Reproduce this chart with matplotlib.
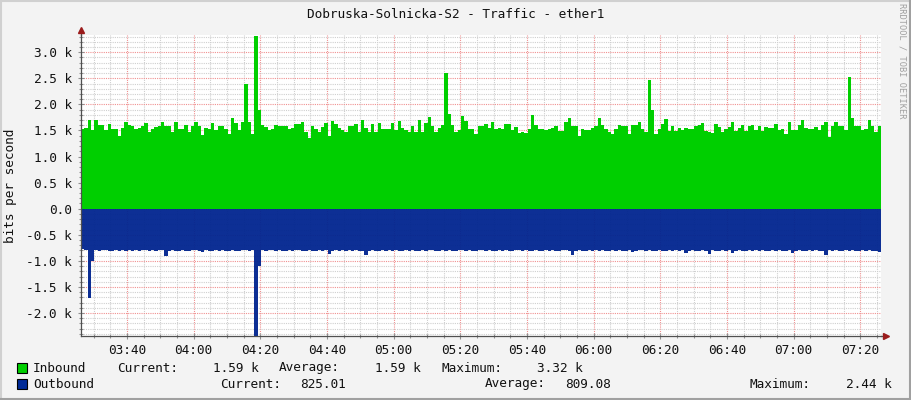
import numpy as np
import matplotlib
matplotlib.use("Agg")
import matplotlib.pyplot as plt
from matplotlib.ticker import MultipleLocator, FuncFormatter
from matplotlib.patches import Rectangle
from matplotlib.lines import Line2D

plt.rcParams['font.family'] = ['DejaVu Sans Mono']

# --- chart data (k bits/s, one sample per minute) ---
title = "Dobruska-Solnicka-S2 - Traffic - ether1"
start_min = 3 * 60 + 26.2   # first sample, minutes after midnight
step_min = 1.0

inbound_k = [
    1.52, 1.55, 1.70, 1.50, 1.70, 1.60, 1.60, 1.50, 1.62, 1.52,
    1.52, 1.40, 1.55, 1.66, 1.60, 1.58, 1.52, 1.55, 1.58, 1.65,
    1.48, 1.53, 1.57, 1.58, 1.67, 1.58, 1.58, 1.47, 1.66, 1.52,
    1.52, 1.60, 1.47, 1.58, 1.67, 1.58, 1.42, 1.55, 1.52, 1.64,
    1.50, 1.58, 1.58, 1.52, 1.44, 1.74, 1.65, 1.50, 1.67, 2.40,
    1.67, 1.44, 3.32, 1.89, 1.60, 1.57, 1.50, 1.53, 1.60, 1.58,
    1.58, 1.58, 1.52, 1.55, 1.62, 1.62, 1.67, 1.48, 1.35, 1.58,
    1.52, 1.47, 1.57, 1.64, 1.40, 1.68, 1.63, 1.55, 1.50, 1.47,
    1.58, 1.58, 1.62, 1.47, 1.70, 1.55, 1.47, 1.62, 1.47, 1.65,
    1.52, 1.52, 1.52, 1.65, 1.50, 1.68, 1.55, 1.50, 1.47, 1.58,
    1.47, 1.70, 1.47, 1.65, 1.76, 1.58, 1.47, 1.55, 1.60, 2.60,
    1.81, 1.60, 1.47, 1.50, 1.77, 1.68, 1.52, 1.52, 1.44, 1.58,
    1.58, 1.62, 1.55, 1.67, 1.52, 1.55, 1.52, 1.62, 1.62, 1.50,
    1.57, 1.46, 1.48, 1.46, 1.52, 1.79, 1.60, 1.53, 1.53, 1.51,
    1.52, 1.55, 1.58, 1.49, 1.49, 1.67, 1.74, 1.59, 1.59, 1.39,
    1.53, 1.51, 1.51, 1.54, 1.58, 1.74, 1.61, 1.52, 1.48, 1.44,
    1.52, 1.61, 1.58, 1.58, 1.44, 1.61, 1.60, 1.67, 1.52, 1.48,
    2.46, 1.89, 1.44, 1.52, 1.62, 1.72, 1.49, 1.58, 1.49, 1.54,
    1.51, 1.55, 1.52, 1.53, 1.58, 1.60, 1.64, 1.49, 1.47, 1.45,
    1.62, 1.56, 1.48, 1.53, 1.57, 1.66, 1.49, 1.55, 1.60, 1.49,
    1.58, 1.60, 1.51, 1.58, 1.49, 1.57, 1.54, 1.55, 1.63, 1.51,
    1.52, 1.44, 1.66, 1.50, 1.51, 1.61, 1.70, 1.55, 1.52, 1.52,
    1.57, 1.51, 1.60, 1.66, 1.38, 1.58, 1.66, 1.59, 1.59, 1.51,
    2.52, 1.74, 1.58, 1.58, 1.51, 1.53, 1.71, 1.58, 1.47, 1.59,
]

outbound_k = [
    0.78, 0.79, 1.72, 1.00, 0.80, 0.81, 0.80, 0.79, 0.82, 0.81,
    0.80, 0.81, 0.80, 0.82, 0.79, 0.81, 0.80, 0.81, 0.80, 0.79,
    0.81, 0.80, 0.82, 0.80, 0.79, 0.90, 0.81, 0.80, 0.82, 0.81,
    0.80, 0.81, 0.82, 0.80, 0.79, 0.81, 0.83, 0.80, 0.81, 0.82,
    0.80, 0.81, 0.80, 0.82, 0.81, 0.80, 0.82, 0.81, 0.79, 0.80,
    0.81, 0.80, 2.44, 1.10, 0.80, 0.81, 0.80, 0.79, 0.81, 0.80,
    0.82, 0.81, 0.80, 0.81, 0.79, 0.80, 0.82, 0.81, 0.80, 0.82,
    0.81, 0.80, 0.81, 0.79, 0.86, 0.81, 0.80, 0.82, 0.80, 0.81,
    0.80, 0.81, 0.79, 0.81, 0.82, 0.88, 0.81, 0.80, 0.82, 0.81,
    0.80, 0.81, 0.79, 0.81, 0.80, 0.82, 0.81, 0.80, 0.81, 0.80,
    0.81, 0.82, 0.80, 0.81, 0.80, 0.79, 0.81, 0.82, 0.80, 0.81,
    0.80, 0.81, 0.82, 0.80, 0.79, 0.81, 0.80, 0.82, 0.81, 0.80,
    0.79, 0.81, 0.80, 0.82, 0.81, 0.80, 0.81, 0.80, 0.82, 0.81,
    0.80, 0.79, 0.81, 0.80, 0.82, 0.81, 0.80, 0.81, 0.82, 0.80,
    0.81, 0.80, 0.82, 0.81, 0.79, 0.80, 0.81, 0.88, 0.81, 0.80,
    0.82, 0.81, 0.80, 0.81, 0.79, 0.81, 0.80, 0.82, 0.81, 0.80,
    0.81, 0.80, 0.82, 0.81, 0.80, 0.83, 0.81, 0.80, 0.79, 0.81,
    0.80, 0.82, 0.81, 0.80, 0.81, 0.82, 0.80, 0.81, 0.80, 0.81,
    0.80, 0.85, 0.81, 0.80, 0.82, 0.81, 0.80, 0.81, 0.86, 0.80,
    0.81, 0.82, 0.80, 0.81, 0.80, 0.85, 0.81, 0.80, 0.82, 0.81,
    0.80, 0.81, 0.79, 0.81, 0.80, 0.82, 0.81, 0.80, 0.81, 0.80,
    0.82, 0.81, 0.80, 0.85, 0.81, 0.80, 0.82, 0.81, 0.80, 0.81,
    0.80, 0.82, 0.81, 0.88, 0.80, 0.81, 0.80, 0.82, 0.81, 0.80,
    0.81, 0.80, 0.82, 0.81, 0.79, 0.81, 0.80, 0.82, 0.81, 0.83,
]

legend_rows = [
    ("Inbound", "#00CF00", [("Current:", "1.59 k"), ("Average:", "1.59 k"), ("Maximum:", "3.32 k")]),
    ("Outbound", "#002A97", [("Current:", "825.01"), ("Average:", "809.08"), ("Maximum:", "2.44 k")]),
]

W, H = 911, 400
FS = 9.2
TXT = '#111111'

inbound = np.array(inbound_k) * 1000
outbound = np.array(outbound_k) * 1000
t = start_min + np.arange(len(inbound) + 1) * step_min
inb = np.append(inbound, inbound[-1])
outb = np.append(outbound, outbound[-1])

fig = plt.figure(figsize=(W / 100, H / 100), dpi=100, facecolor='#F3F3F3')


def fx(px):
    return px / W


def fy(py):
    return 1 - py / H


ax = fig.add_axes([fx(81), fy(336), 800 / W, 301 / H])
ax.set_facecolor('white')

ax.fill_between(t, 0, inb, step='post', color='#00CF00', lw=0, zorder=1)
ax.fill_between(t, 0, -outb, step='post', color='#00248F', alpha=0.95, lw=0, zorder=1)

ax.set_xlim(t[0], t[-1])
ax.set_ylim(-2440, 3330)

# grid like rrdtool
ax.xaxis.set_major_locator(MultipleLocator(20))
ax.xaxis.set_minor_locator(MultipleLocator(5))
ax.yaxis.set_major_locator(MultipleLocator(500))
ax.yaxis.set_minor_locator(MultipleLocator(100))
ax.xaxis.set_major_formatter(FuncFormatter(lambda v, p: f"{int(v // 60):02d}:{int(round(v % 60)):02d}"))
ax.yaxis.set_major_formatter(FuncFormatter(lambda v, p: "0.0" if abs(v) < 1 else f"{v / 1000:.1f} k"))
ax.grid(which='minor', color='#CFCFCF', ls=(0, (1, 1)), lw=0.8)
ax.grid(which='major', color='#F09090', ls=(0, (1, 1)), lw=0.8)
ax.set_axisbelow(True)

ax.tick_params(which='both', direction='inout', color='#909090', width=0.8, labelsize=FS, labelcolor=TXT)
ax.tick_params(which='major', length=5)
ax.tick_params(which='minor', length=3)
ax.tick_params(axis='y', pad=4)
ax.tick_params(axis='x', pad=3)

for s in ('top', 'right'):
    ax.spines[s].set_visible(False)
for s in ('left', 'bottom'):
    ax.spines[s].set_color('#505050')
    ax.spines[s].set_linewidth(0.9)

# axis extensions + arrows
ax.add_line(Line2D([1, 1.006], [0, 0], transform=ax.transAxes, color='#505050', lw=0.9, clip_on=False))
ax.add_line(Line2D([0, 0], [1, 1.015], transform=ax.transAxes, color='#505050', lw=0.9, clip_on=False))
ax.plot([1.006], [0], marker='>', ms=4, color='#9B1C1C', transform=ax.transAxes, clip_on=False)
ax.plot([0], [1.017], marker='^', ms=4, color='#9B1C1C', transform=ax.transAxes, clip_on=False)

fig.text(fx(11), fy(186), "bits per second", rotation=90, ha='center', va='center', fontsize=FS, color=TXT)
fig.text(0.5, fy(14), title, ha='center', va='center', fontsize=FS, color=TXT)
fig.text(fx(902), fy(61), "RRDTOOL / TOBI OETIKER", rotation=270, ha='center', va='center',
         fontsize=6.2, color='#A0A0A0')

# legend
row_y = [368, 384]
for (name, col, stats), y in zip(legend_rows, row_y):
    fig.patches.append(Rectangle((fx(17), fy(y + 5)), 10 / W, 10 / H, transform=fig.transFigure,
                                 facecolor=col, edgecolor='black', lw=0.8))
    fig.text(fx(33), fy(y), name, ha='left', va='center', fontsize=FS, color=TXT)

r1 = legend_rows[0][2]
fig.text(fx(117), fy(368), r1[0][0], va='center', fontsize=FS, color=TXT)
fig.text(fx(259), fy(368), r1[0][1], ha='right', va='center', fontsize=FS, color=TXT)
fig.text(fx(279), fy(368), r1[1][0], va='center', fontsize=FS, color=TXT)
fig.text(fx(421), fy(368), r1[1][1], ha='right', va='center', fontsize=FS, color=TXT)
fig.text(fx(441), fy(368), r1[2][0], va='center', fontsize=FS, color=TXT)
fig.text(fx(583), fy(368), r1[2][1], ha='right', va='center', fontsize=FS, color=TXT)

r2 = legend_rows[1][2]
fig.text(fx(220), fy(384), r2[0][0], va='center', fontsize=FS, color=TXT)
fig.text(fx(300), fy(384), r2[0][1], va='center', fontsize=FS, color=TXT)
fig.text(fx(485), fy(384), r2[1][0], va='center', fontsize=FS, color=TXT)
fig.text(fx(565), fy(384), r2[1][1], va='center', fontsize=FS, color=TXT)
fig.text(fx(750), fy(384), r2[2][0], va='center', fontsize=FS, color=TXT)
fig.text(fx(892), fy(384), r2[2][1], ha='right', va='center', fontsize=FS, color=TXT)

# 3D-ish frame around the image
fig.add_artist(Line2D([0, 1], [1 - 1 / H, 1 - 1 / H], transform=fig.transFigure, color='#D0D0D0', lw=1.5))
fig.add_artist(Line2D([1 / W, 1 / W], [0, 1], transform=fig.transFigure, color='#D0D0D0', lw=1.5))
fig.add_artist(Line2D([0, 1], [1 / H, 1 / H], transform=fig.transFigure, color='#A0A0A0', lw=1.5))
fig.add_artist(Line2D([1 - 1 / W, 1 - 1 / W], [0, 1], transform=fig.transFigure, color='#A0A0A0', lw=1.5))

fig.savefig("out.png", dpi=100, facecolor=fig.get_facecolor())
